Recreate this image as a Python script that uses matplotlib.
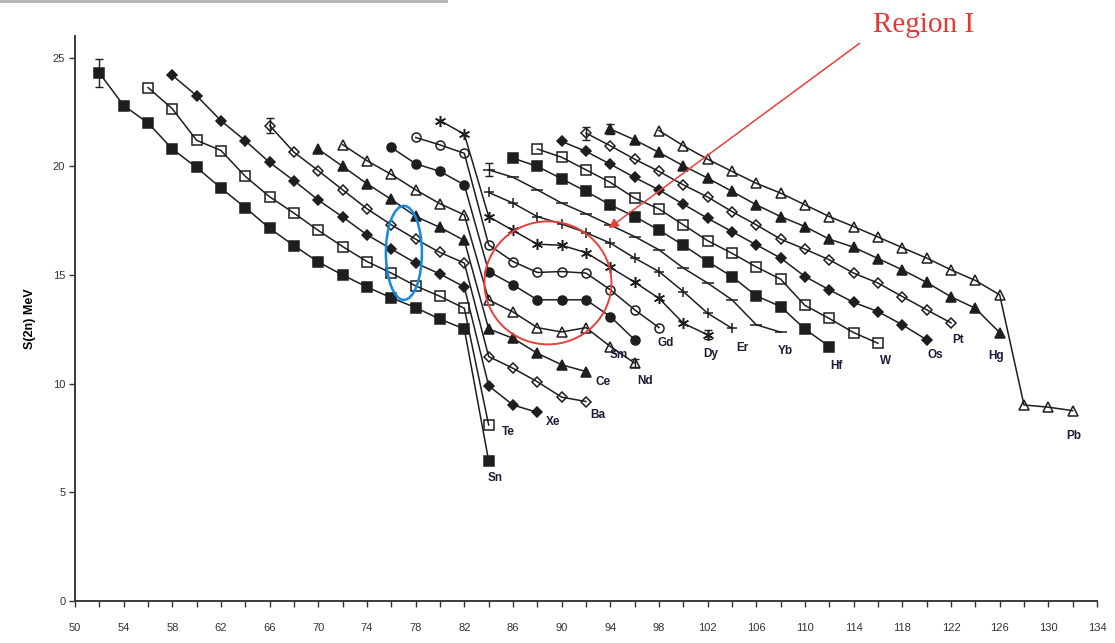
import numpy as np
import matplotlib
matplotlib.use('Agg')
import matplotlib.pyplot as plt
from matplotlib.patches import Ellipse
from matplotlib.lines import Line2D
from matplotlib.ticker import MultipleLocator

plt.rcParams['font.family'] = ['Liberation Sans', 'DejaVu Sans']

# S(2n) values (MeV), every chain goes in steps of 2 neutrons from its first N
sn_n0, sn_s = 52, [24.3, 22.8, 22.0, 20.8, 19.95, 19.0, 18.1, 17.15, 16.35, 15.6, 15.0, 14.45, 13.95, 13.5, 12.97, 12.52, 6.45]
te_n0, te_s = 56, [23.63, 22.65, 21.2, 20.73, 19.54, 18.6, 17.85, 17.05, 16.31, 15.62, 15.09, 14.5, 14.02, 13.47, 8.1]
xe_n0, xe_s = 58, [24.19, 23.25, 22.1, 21.18, 20.18, 19.34, 18.45, 17.67, 16.85, 16.2, 15.55, 15.05, 14.45, 9.9, 9.02, 8.68]
ba_n0, ba_s = 66, [21.88, 20.65, 19.8, 18.92, 18.05, 17.31, 16.65, 16.04, 15.55, 11.25, 10.71, 10.09, 9.38, 9.18]
ce_n0, ce_s = 70, [20.79, 20.0, 19.2, 18.48, 17.7, 17.19, 16.59, 12.52, 12.09, 11.4, 10.87, 10.56]
nd_n0, nd_s = 72, [21.0, 20.26, 19.63, 18.92, 18.28, 17.77, 13.86, 13.3, 12.58, 12.38, 12.58, 11.71, 10.95]
sm_n0, sm_s = 76, [20.87, 20.12, 19.77, 19.15, 15.16, 14.55, 13.86, 13.86, 13.86, 13.09, 12.02]
gd_n0, gd_s = 78, [21.33, 20.99, 20.6, 16.39, 15.62, 15.12, 15.16, 15.09, 14.32, 13.4, 12.58]
dy_n0, dy_s = 80, [22.11, 21.48, 17.69, 17.05, 16.42, 16.37, 16.03, 15.35, 14.67, 13.93, 12.78, 12.25]
er_n0, er_s = 84, [18.8, 18.31, 17.69, 17.35, 16.95, 16.47, 15.78, 15.16, 14.24, 13.24, 12.55]
yb_n0, yb_s = 84, [19.84, 19.5, 18.92, 18.31, 17.82, 17.3, 16.77, 16.16, 15.32, 14.63, 13.86, 12.71, 12.37]
hf_n0, hf_s = 86, [20.38, 20.0, 19.43, 18.85, 18.23, 17.69, 17.07, 16.37, 15.62, 14.93, 14.04, 13.55, 12.51, 11.71]
w_n0, w_s = 88, [20.8, 20.42, 19.84, 19.26, 18.54, 18.04, 17.31, 16.58, 16.0, 15.37, 14.81, 13.6, 13.0, 12.35, 11.86]
os_n0, os_s = 90, [21.15, 20.69, 20.1, 19.49, 18.92, 18.26, 17.61, 17.0, 16.39, 15.78, 14.93, 14.32, 13.74, 13.32, 12.71, 12.02]
pt_n0, pt_s = 92, [21.53, 20.95, 20.33, 19.77, 19.15, 18.59, 17.92, 17.31, 16.65, 16.19, 15.7, 15.09, 14.63, 14.01, 13.4, 12.8]
hg_n0, hg_s = 94, [21.72, 21.22, 20.64, 20.03, 19.46, 18.85, 18.23, 17.69, 17.23, 16.65, 16.28, 15.76, 15.24, 14.66, 14.0, 13.47, 12.35]
pb_n0, pb_s = 98, [21.65, 20.95, 20.33, 19.77, 19.22, 18.77, 18.23, 17.69, 17.23, 16.75, 16.26, 15.78, 15.24, 14.75, 14.09, 9.02, 8.92, 8.76]

# error bars (N, S, err)
err_n = [52, 66, 84, 92, 94, 102, 96]
err_s = [24.3, 21.88, 19.84, 21.53, 21.72, 12.25, 10.95]
err_e = [0.65, 0.35, 0.3, 0.3, 0.25, 0.2, 0.2]

elements = ['Sn', 'Te', 'Xe', 'Ba', 'Ce', 'Nd', 'Sm', 'Gd', 'Dy', 'Er', 'Yb', 'Hf', 'W', 'Os', 'Pt', 'Hg', 'Pb']
starts = [sn_n0, te_n0, xe_n0, ba_n0, ce_n0, nd_n0, sm_n0, gd_n0, dy_n0, er_n0, yb_n0, hf_n0, w_n0, os_n0, pt_n0, hg_n0, pb_n0]
values = [sn_s, te_s, xe_s, ba_s, ce_s, nd_s, sm_s, gd_s, dy_s, er_s, yb_s, hf_s, w_s, os_s, pt_s, hg_s, pb_s]

# marker, filled?, size
styles = [('s', True, 6.5), ('s', False, 6.5), ('D', True, 5.5), ('D', False, 5.5),
          ('^', True, 7), ('^', False, 7), ('o', True, 6.5), ('o', False, 6.5),
          ((6, 2, 0), True, 8), ('+', True, 7), ('_', True, 8),
          ('s', True, 6.5), ('s', False, 6.5), ('D', True, 5.5), ('D', False, 5.5),
          ('^', True, 7), ('^', False, 7)]

# label offsets from last point (pixels)
lab_dx = [6, 20, 16, 12, 17, 10, -16, 7, 3, 10, 5, 7, 8, 9, 7, -4, 1]
lab_dy = [-17, -7, -10, -13, -10, -18, -15, -15, -19, -20, -19, -19, -18, -15, -17, -23, -25]

fig = plt.figure(figsize=(11.15, 6.43), dpi=100)
ax = fig.add_axes([75/1115, 42/643, 1022/1115, 565/643])

lc = '#1e1e1e'
for name, n0, s, st, dx, dy in zip(elements, starts, values, styles, lab_dx, lab_dy):
    n = np.arange(n0, n0 + 2*len(s), 2)
    mk, filled, ms = st
    ax.plot(n, s, color=lc, lw=1.1, marker=mk, ms=ms, mec=lc, mew=1.1,
            mfc=lc if filled else 'none', zorder=3)
    ax.annotate(name, (n[-1], s[-1]), xytext=(dx, dy), textcoords='offset pixels',
                ha='center', va='center', fontsize=8.5, fontweight='bold', color='#1c1c3a')

ax.errorbar(err_n, err_s, yerr=err_e, fmt='none', ecolor=lc, elinewidth=1, capsize=3, zorder=2)

# Region I circle, blue ellipse, arrow
ax.add_patch(Ellipse((88.87, 14.64), 10.44, 5.66, fill=False, ec='#e8403c', lw=1.4, zorder=4))
ax.add_patch(Ellipse((77.03, 16.02), 2.96, 4.33, fill=False, ec='#1688e0', lw=1.8, zorder=4))
ax.annotate('', xy=(93.68, 17.08), xytext=(114.67, 25.74),
            arrowprops=dict(arrowstyle='-|>', color='#e8403c', lw=1.1, mutation_scale=14),
            annotation_clip=False, zorder=5)
fig.text(0.828, 0.961, 'Region I', color='#e03a36', fontsize=21, ha='center', va='center',
         family=['Liberation Serif', 'DejaVu Serif'])

ax.set_xlim(50, 134)
ax.set_ylim(0, 26)
ax.set_xticks(np.arange(50, 135, 4))
ax.xaxis.set_minor_locator(MultipleLocator(2))
ax.set_yticks([0, 5, 10, 15, 20, 25])
ax.tick_params(axis='x', which='both', direction='out', length=4, width=1, pad=12, labelsize=8, colors='#333333')
ax.tick_params(axis='y', direction='out', length=4, width=1, pad=3, labelsize=8, colors='#333333')
for sp in ['top', 'right']:
    ax.spines[sp].set_visible(False)
for sp in ['left', 'bottom']:
    ax.spines[sp].set_color('#3a3a3a')
    ax.spines[sp].set_linewidth(1.4)
ax.set_ylabel('S(2n) MeV', fontsize=9, fontweight='bold', labelpad=12)

fig.add_artist(Line2D([0, 0.4], [0.998, 0.998], transform=fig.transFigure, color='#b0b0b0', lw=2))

fig.savefig('out.png', dpi=100)
